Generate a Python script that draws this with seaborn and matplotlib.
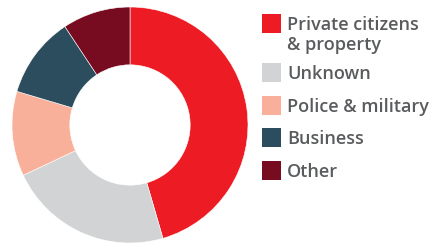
import matplotlib
matplotlib.use('Agg')
import matplotlib.pyplot as plt
import seaborn as sns
from matplotlib.patches import Rectangle

sns.set_style('white')
plt.rcParams['font.family'] = ['Open Sans', 'DejaVu Sans']

# data (share of attacks, %)
labels = ['Private citizens\n& property', 'Unknown', 'Police & military', 'Business', 'Other']
values = [45.5, 22.5, 11.6, 11.1, 9.3]
colors = ['#ED1C24', '#D1D3D4', '#F9B09A', '#2C4D5D', '#770B1F']

W, H = 441, 245
fig = plt.figure(figsize=(W / 100, H / 100), dpi=100)

# donut
ax = fig.add_axes([12 / W, (H - 125 - 118) / H, 236 / W, 236 / H])
ax.pie(values, colors=colors, startangle=90, counterclock=False,
       wedgeprops=dict(width=0.49, edgecolor='white', linewidth=0.4))
ax.set_xlim(-1, 1)
ax.set_ylim(-1, 1)
ax.set_aspect('equal')
ax.axis('off')

# legend drawn by hand so rows line up like the original
box_top = [14, 63, 96, 128, 161]
box = 19
text_x = 287
line_gap = 19.5
for lab, col, top in zip(labels, colors, box_top):
    fig.patches.append(Rectangle((262 / W, 1 - (top + box) / H), box / W, box / H,
                                 transform=fig.transFigure, facecolor=col, edgecolor='none'))
    base = top + box / 2 + 6.5
    for i, line in enumerate(lab.split('\n')):
        fig.text(text_x / W, 1 - (base + i * line_gap) / H, line, fontsize=13,
                 color='#5A5B5D', fontweight='semibold', va='baseline', ha='left')

fig.savefig('out.png', dpi=100)
